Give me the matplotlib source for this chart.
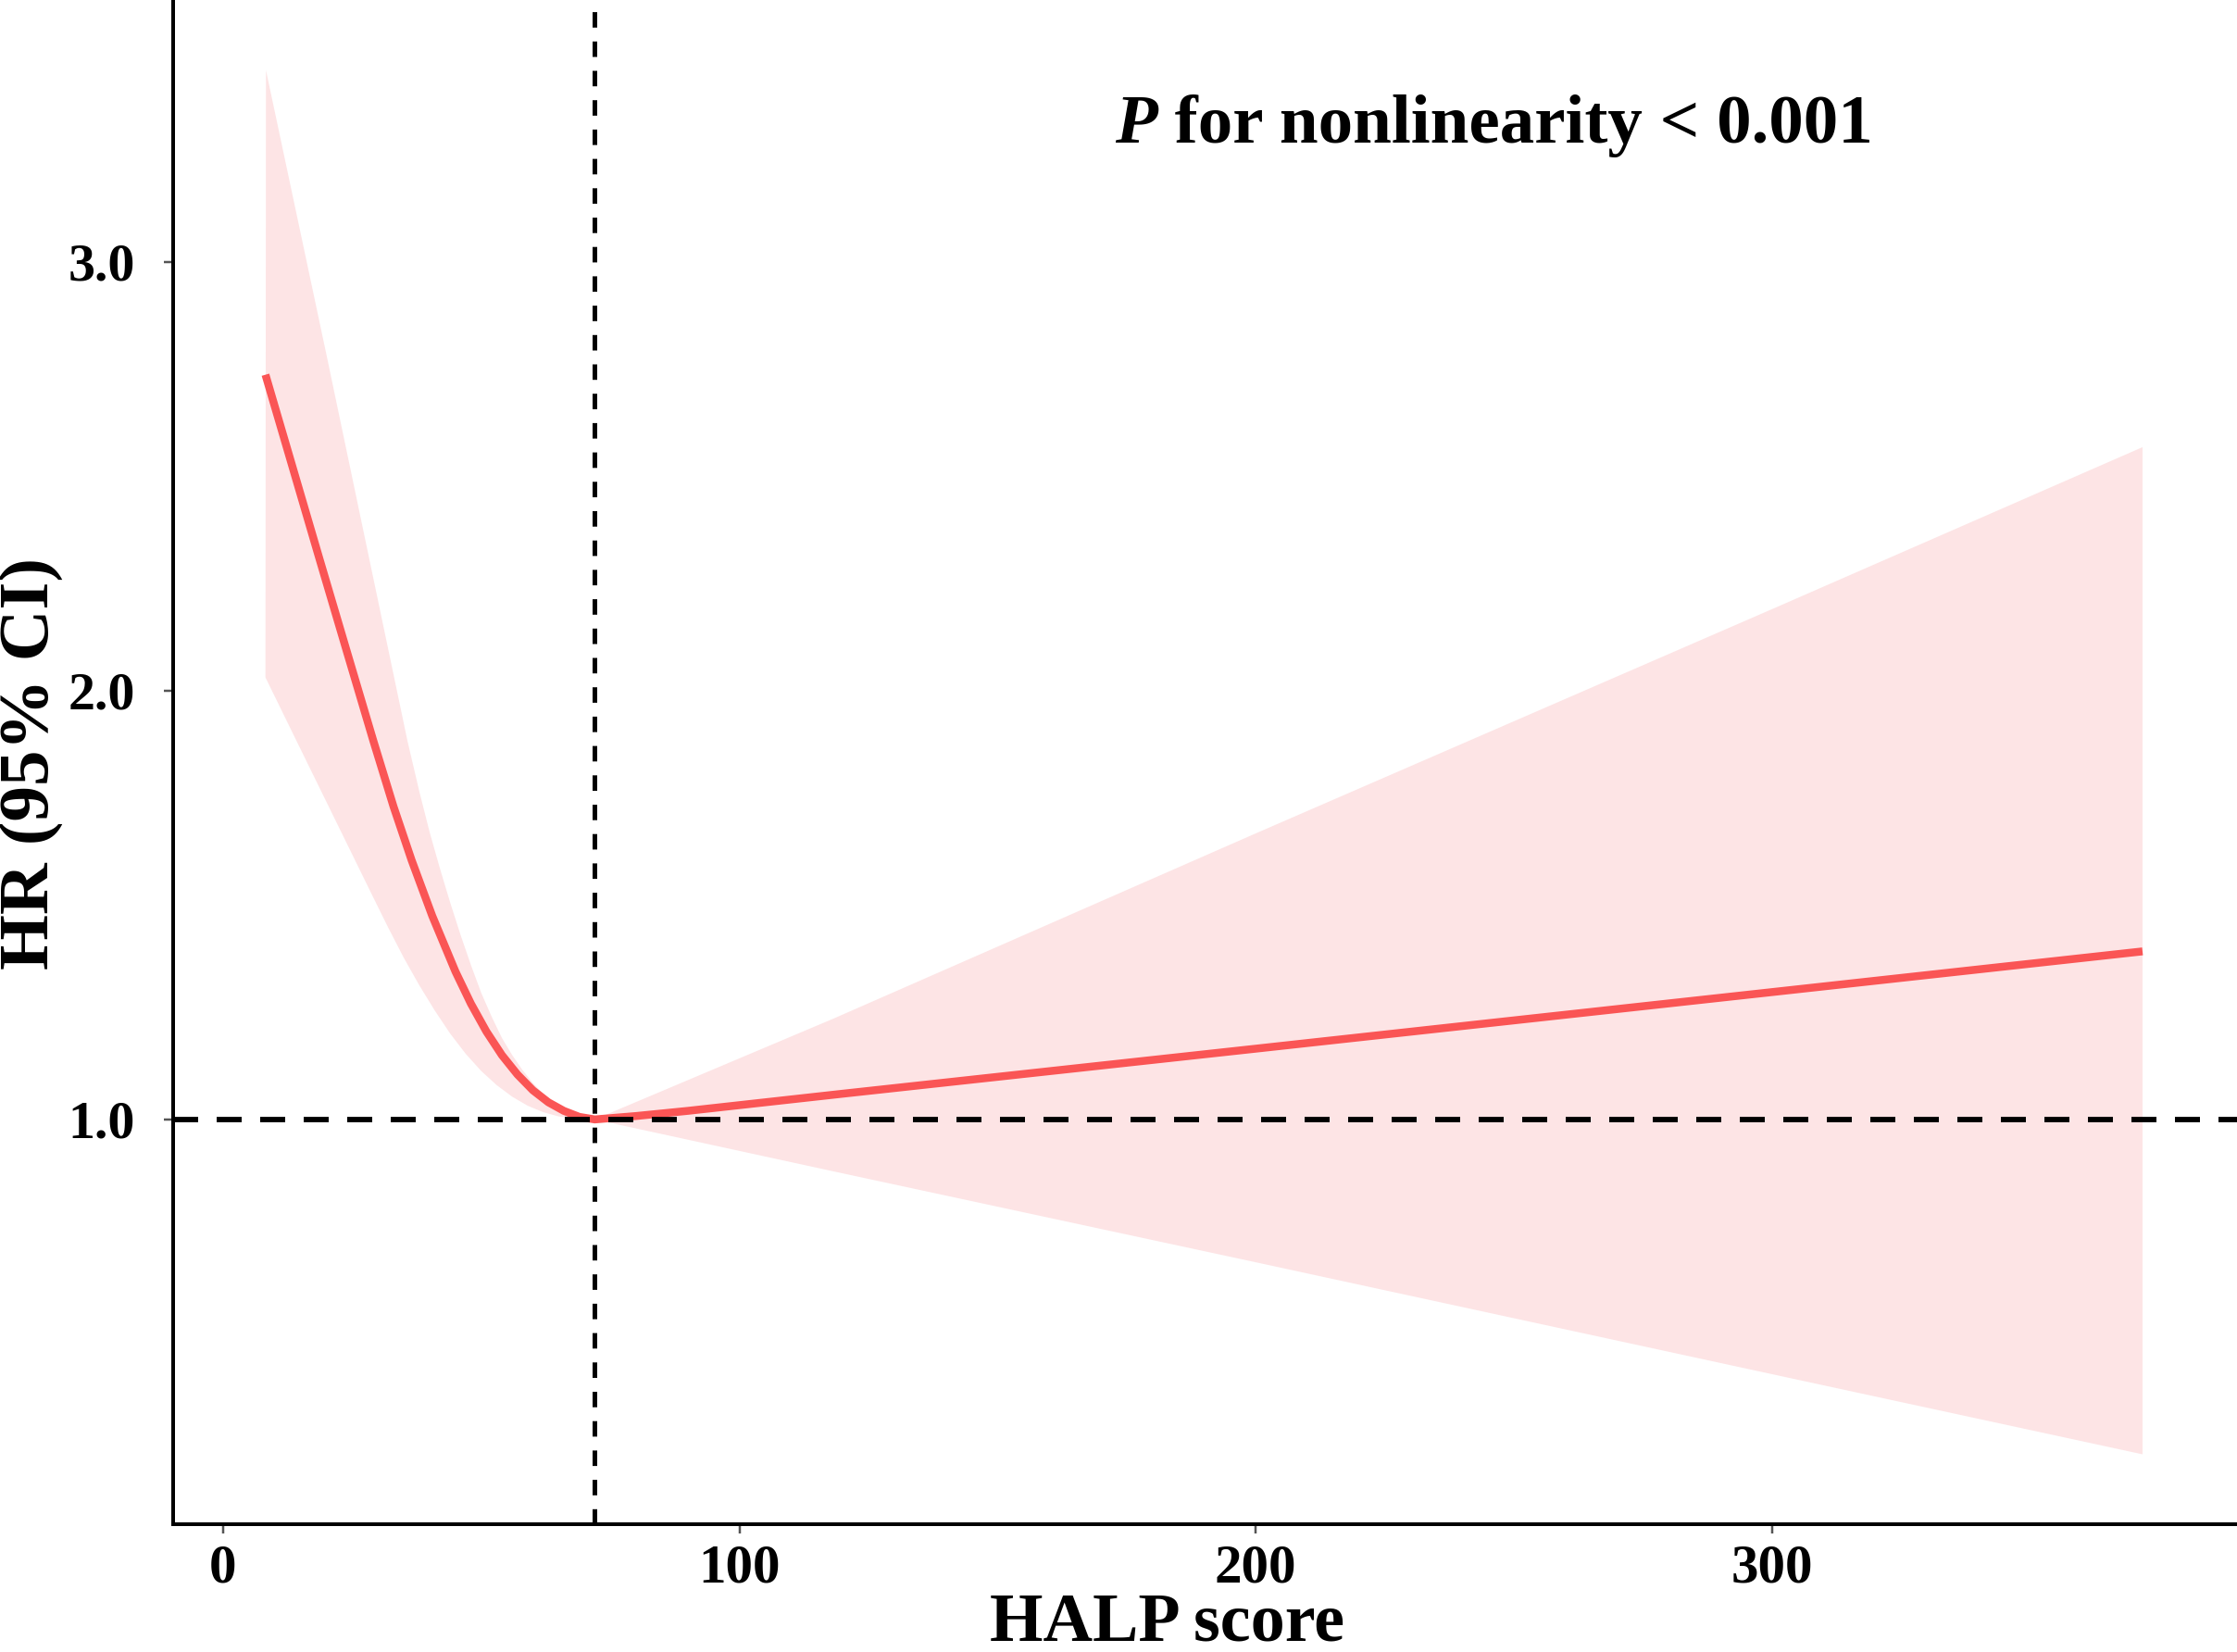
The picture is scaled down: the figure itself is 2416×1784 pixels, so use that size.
import matplotlib
matplotlib.use("Agg")
import matplotlib.pyplot as plt
import numpy as np

# ---------------- data ----------------
fit_x = [8.2, 13.0, 18.6, 24.0, 29.1, 33.0, 36.5, 40.5, 45.0, 48.0, 51.0, 54.0, 57.0, 60.0,
         63.0, 66.0, 69.0, 72.0, 80.0, 90.0, 120.0, 200.0, 300.0, 371.8]
fit_y = [2.737, 2.54, 2.31, 2.09, 1.883, 1.73, 1.605, 1.475, 1.345, 1.27, 1.205, 1.150, 1.105, 1.068,
         1.040, 1.020, 1.006, 1.000, 1.008, 1.02, 1.06, 1.165, 1.297, 1.392]

upper_x = [8.3, 19.9, 35.7, 38.0, 40.0, 42.0, 44.0, 46.0, 48.0, 50.0, 52.0, 54.0, 56.0, 58.0,
           60.0, 62.0, 64.0, 66.0, 68.0, 70.0, 72.0, 118.2, 200.0, 300.0, 371.8]
upper_y = [3.447, 2.79, 1.883, 1.765, 1.67, 1.585, 1.505, 1.43, 1.36, 1.295, 1.24, 1.19, 1.15, 1.115,
           1.085, 1.06, 1.04, 1.025, 1.013, 1.005, 1.0, 1.235, 1.667, 2.19, 2.568]

lower_x = [8.2, 14.5, 20.0, 25.5, 29.0, 32.0, 35.0, 38.0, 41.0, 44.0, 47.0, 50.0, 53.0, 56.0,
           59.0, 62.0, 65.0, 68.0, 72.0, 118.2, 200.0, 300.0, 371.8]
lower_y = [2.031, 1.876, 1.741, 1.606, 1.52, 1.447, 1.377, 1.313, 1.254, 1.20, 1.153, 1.113, 1.08, 1.053,
           1.032, 1.017, 1.007, 1.002, 1.0, 0.879, 0.667, 0.406, 0.219]

ref_x = 72.0
ref_hr = 1.0
x_ticks = [0, 100, 200, 300]
y_ticks = [1.0, 2.0, 3.0]
y_ticklabels = ["1.0", "2.0", "3.0"]
x_label = "HALP score"
y_label = "HR (95% CI)"
p_letter = "P"
p_rest = " for nonlinearity < 0.001"

# ---------------- style ----------------
plt.rcParams['font.family'] = ['Liberation Serif', 'DejaVu Serif']
plt.rcParams['lines.scale_dashes'] = False
PX = 0.72  # points per pixel at dpi 100

W, H = 2416, 1784
fig = plt.figure(figsize=(W / 100, H / 100), dpi=100)
ax_left, ax_bottom_px = 186.9, 1645.5
ax = fig.add_axes([ax_left / W, 1 - ax_bottom_px / H, 1 - ax_left / W, ax_bottom_px / H])

line_col = '#FA5555'
band_col = '#FDE4E5'

poly_x = np.concatenate([upper_x, lower_x[::-1]])
poly_y = np.concatenate([upper_y, lower_y[::-1]])
ax.fill(poly_x, poly_y, color=band_col, linewidth=0, zorder=1)
ax.plot(fit_x, fit_y, color=line_col, lw=8.5 * PX, solid_capstyle='butt',
        solid_joinstyle='round', zorder=2)

ax.axhline(ref_hr, color='black', lw=5.8 * PX, linestyle=(0, (27 * PX, 20 * PX)), zorder=3)
ax.axvline(ref_x, color='black', lw=5 * PX, linestyle=(0, (16.7 * PX, 15 * PX)), zorder=3)

ax.set_xlim(-9.7, 390.1)
ax.set_ylim(0.057, 3.611)

for s in ['top', 'right']:
    ax.spines[s].set_visible(False)
for s in ['left', 'bottom']:
    ax.spines[s].set_linewidth(4 * PX)
    ax.spines[s].set_color('black')

ax.set_xticks(x_ticks)
ax.set_xticklabels([str(t) for t in x_ticks])
ax.set_yticks(y_ticks)
ax.set_yticklabels(y_ticklabels)
ax.tick_params(axis='both', direction='out', length=10 * PX, width=2.5 * PX, color='#555555')
ax.tick_params(axis='x', pad=12 * PX)
ax.tick_params(axis='y', pad=31 * PX)
for lab in ax.get_xticklabels():
    lab.set_fontsize(59 * PX)
    lab.set_fontweight('bold')
for lab in ax.get_yticklabels():
    lab.set_fontsize(58 * PX)
    lab.set_fontweight('bold')

ax.set_xlabel(x_label, fontsize=74 * PX, fontweight='bold')
ax.xaxis.set_label_coords((1260.5 - ax_left) / (W - ax_left), -(1772 - ax_bottom_px) / ax_bottom_px)
ax.xaxis.label.set_va('baseline')
ax.set_ylabel(y_label, fontsize=77 * PX, fontweight='bold')
ax.yaxis.set_label_coords((68 - ax_left) / (W - ax_left), 1 - (824.5 / ax_bottom_px))

pt = fig.text(1204.5 / W, 1 - 154 / H, p_letter, fontsize=75 * PX, fontweight='bold',
              fontstyle='italic', va='baseline', ha='left')
ax.annotate(p_rest, xy=(1, 0), xycoords=pt, va='bottom', ha='left',
            fontsize=75 * PX, fontweight='bold', annotation_clip=False)

fig.savefig('out.png', dpi=100, facecolor='white')
